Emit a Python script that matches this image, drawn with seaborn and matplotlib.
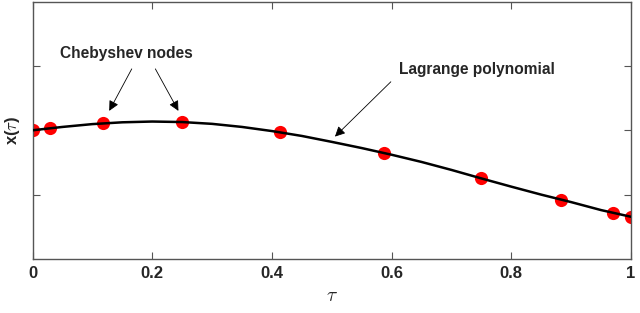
import matplotlib
matplotlib.use("Agg")
import matplotlib.pyplot as plt
import seaborn as sns
import pandas as pd

# Chebyshev nodes (tau) and values
node_tau = [0.0, 0.030, 0.117, 0.250, 0.413, 0.587, 0.750, 0.883, 0.970, 1.0]
node_x = [0.500, 0.510, 0.528, 0.532, 0.493, 0.412, 0.313, 0.231, 0.180, 0.164]

# Lagrange polynomial curve
curve_tau = [0.0, 0.05, 0.10, 0.15, 0.20, 0.25, 0.30, 0.35, 0.40, 0.45, 0.50,
             0.55, 0.60, 0.65, 0.70, 0.75, 0.80, 0.85, 0.90, 0.95, 1.0]
curve_x = [0.500, 0.513, 0.524, 0.531, 0.534, 0.532, 0.525, 0.513, 0.497, 0.478, 0.455,
           0.431, 0.405, 0.377, 0.346, 0.313, 0.281, 0.250, 0.221, 0.190, 0.164]

x_ticks = [0, 0.2, 0.4, 0.6, 0.8, 1.0]
x_tick_labels = ["0", "0.2", "0.4", "0.6", "0.8", "1"]
y_ticks = [0.25, 0.5, 0.75]

sns.set_style("white")
plt.rcParams["font.family"] = ["Liberation Sans", "DejaVu Sans"]
plt.rcParams["font.weight"] = "bold"
plt.rcParams["mathtext.fontset"] = "cm"

df_nodes = pd.DataFrame({"tau": node_tau, "x": node_x})
df_curve = pd.DataFrame({"tau": curve_tau, "x": curve_x})

fig = plt.figure(figsize=(6.4, 3.13), dpi=100)
ax = fig.add_axes([0.0508, 0.1725, 0.9352, 0.8225])

sns.scatterplot(x="tau", y="x", data=df_nodes, ax=ax, color="#ff0000",
                s=90, linewidth=0, zorder=2)
sns.lineplot(x="tau", y="x", data=df_curve, ax=ax, color="black",
             linewidth=1.8, zorder=3)

ax.set_xlim(0, 1)
ax.set_ylim(0, 1)
ax.set_xticks(x_ticks)
ax.set_xticklabels(x_tick_labels, fontsize=12, fontweight="bold")
ax.set_yticks(y_ticks)
ax.set_yticklabels([])
ax.tick_params(direction="in", length=5, width=0.8, color="#555555",
               top=True, right=True, bottom=True, left=True, pad=5)
for s in ax.spines.values():
    s.set_color("#555555")
    s.set_linewidth(1.0)

ax.set_xlabel(r"$\tau$", fontsize=14, labelpad=5)
ax.set_ylabel(r"x($\tau$)", fontsize=12, fontweight="bold", va="center")
ax.yaxis.set_label_coords(-0.034, 0.5)

# annotations
arrow = dict(arrowstyle="-|>", color="black", lw=0.6, mutation_scale=15)
ax.text(0.157, 0.798, "Chebyshev nodes", fontsize=11.2, fontweight="bold",
        ha="center", va="center")
ax.annotate("", xy=(0.126, 0.566), xytext=(0.168, 0.748), arrowprops=arrow)
ax.annotate("", xy=(0.246, 0.566), xytext=(0.203, 0.748), arrowprops=arrow)
ax.text(0.743, 0.736, "Lagrange polynomial", fontsize=11.2, fontweight="bold",
        ha="center", va="center")
ax.annotate("", xy=(0.502, 0.468), xytext=(0.602, 0.696), arrowprops=arrow)

fig.savefig("out.png", dpi=100)
